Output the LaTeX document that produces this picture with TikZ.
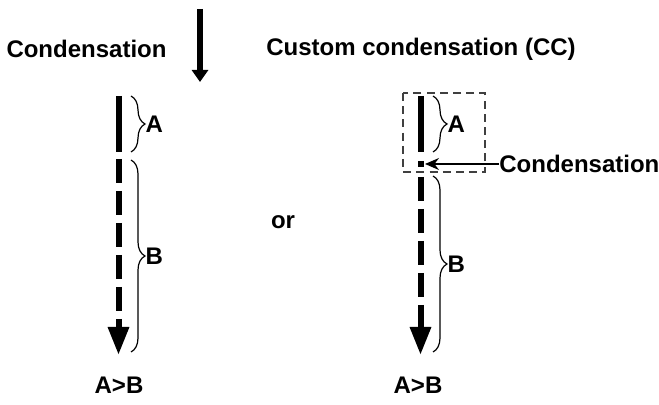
\documentclass[tikz,border=0pt]{standalone}
\usepackage{fontspec}
\setmainfont{Liberation Sans}
\usetikzlibrary{arrows.meta,decorations.pathreplacing}

\begin{document}
\begin{tikzpicture}[x=0.5pt, y=-0.5pt,
  every node/.style={font=\bfseries\fontsize{12}{14}\selectfont, inner sep=0pt},
  thick arrow/.style={line width=3pt, -{Triangle[width=10pt,length=14pt]}},
  solid bar/.style={line width=3pt},
  dash bar/.style={line width=3pt, dash pattern=on 12pt off 4pt},
  curly/.style={decorate, decoration={brace, amplitude=7pt}, line width=0.6pt},
  box/.style={draw=black!75, line width=0.6pt, dash pattern=on 4pt off 2.6pt}]
\useasboundingbox (0,0) rectangle (659,405);
%
% --- Titles ---
\node (t1) at (86.5,49) {Condensation};
\node[anchor=west] (t2) at (266,49) {Custom condensation (CC)};
%
% --- Small arrow between titles ---
\coordinate (s1) at (200,9);
\coordinate (s2) at (200,82);
\draw[line width=2.6pt, -{Triangle[width=8pt,length=6pt]}] (s1)--(s2);
%
% --- Left chain ---
\coordinate (l1) at (118.5,96);
\coordinate (l2) at (118.5,152);
\coordinate (l3) at (118.5,159);
\coordinate (l4) at (118.5,355);
\draw[solid bar] (l1)--(l2);
\draw[dash bar, thick arrow] (l3)--(l4);
\draw[curly] (131,96)--(131,152) node[midway, right=7pt] (la) {A};
\draw[curly] (131,160)--(131,352) node[midway, right=7pt] (lb) {B};
\node (lr) at (119,385) {A>B};
%
\node (or) at (283,222) {or};
%
% --- Right chain ---
\coordinate (r1) at (420.5,96);
\coordinate (r2) at (420.5,152);
\coordinate (r3) at (420.5,161);
\coordinate (r4) at (420.5,167);
\coordinate (r5) at (420.5,177);
\coordinate (r6) at (420.5,355);
\draw[solid bar] (r1)--(r2);
\draw[solid bar] (r3)--(r4);
\draw[dash bar, thick arrow] (r5)--(r6);
\draw[curly] (433,96)--(433,152) node[midway, right=7pt] (ra) {A};
\draw[curly] (433,176)--(433,352) node[midway, right=7pt] (rb) {B};
\draw[box] (403,93) rectangle (485,172);
\node[anchor=west] (cond) at (499,164) {Condensation};
\coordinate (c1) at (425,164);
\draw[line width=0.7pt, -{Stealth[length=7pt,width=6pt]}] (cond.west)--(c1);
\node (rr) at (418,385) {A>B};
%
\end{tikzpicture}
\end{document}
